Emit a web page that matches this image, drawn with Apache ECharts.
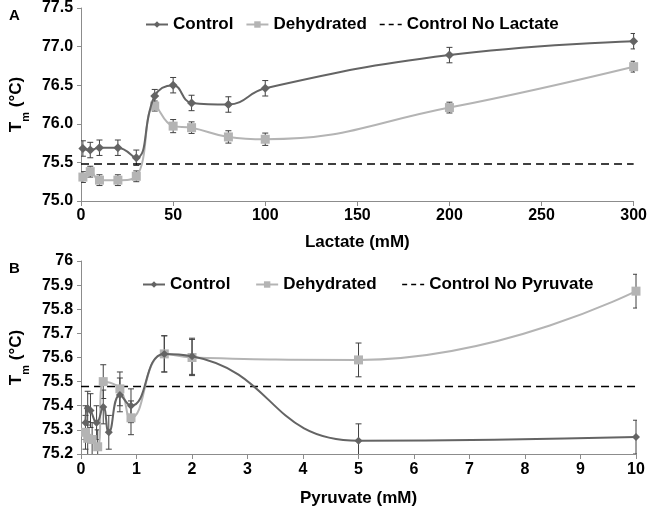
<!DOCTYPE html>
<html>
<head>
<meta charset="utf-8">
<script src="https://cdn.jsdelivr.net/npm/echarts@6/dist/echarts.min.js"></script>
<style>
html,body{margin:0;padding:0;background:#fff;}
#c{width:650px;height:508px;}
</style>
</head>
<body>
<div id="c"></div>
<script>
// ---- Panel A: Lactate ----
const lactateX = [1, 5, 10, 20, 30, 40, 50, 60, 80, 100, 200, 300];
const lactCtrl = [75.68, 75.66, 75.69, 75.69, 75.56, 76.36, 76.50, 76.27, 76.25, 76.46, 76.89, 77.07];
const lactCtrlErr = [0.10, 0.10, 0.10, 0.10, 0.10, 0.085, 0.10, 0.10, 0.10, 0.10, 0.10, 0.10];
const lactDehy = [75.31, 75.38, 75.27, 75.27, 75.32, 76.23, 75.97, 75.95, 75.83, 75.80, 76.21, 76.74];
const lactDehyErr = [0.07, 0.07, 0.07, 0.07, 0.07, 0.065, 0.085, 0.075, 0.08, 0.08, 0.07, 0.07];
const lactBaseline = 75.48;
const lactRange = [0, 300];

// ---- Panel B: Pyruvate ----
const pyrCtrlX = [0.08, 0.12, 0.17, 0.28, 0.4, 0.5, 0.7, 0.9, 1.5, 2, 5, 10];
const pyrCtrl = [75.33, 75.39, 75.38, 75.33, 75.395, 75.29, 75.445, 75.40, 75.615, 75.605, 75.255, 75.27];
const pyrCtrlErr = [0.07, 0.07, 0.07, 0.07, 0.07, 0.07, 0.07, 0.07, 0.075, 0.075, 0.07, 0.07];
const pyrDehyX = [0.08, 0.12, 0.2, 0.3, 0.4, 0.7, 0.9, 1.5, 2, 5, 10];
const pyrDehy = [75.29, 75.265, 75.26, 75.23, 75.50, 75.47, 75.35, 75.615, 75.60, 75.59, 75.875];
const pyrDehyErr = [0.07, 0.07, 0.07, 0.07, 0.07, 0.07, 0.07, 0.075, 0.075, 0.07, 0.07];
const pyrBaseline = 75.48;
const pyrRange = [0, 10];

const FONT = "'Liberation Sans', Arial, sans-serif";
const C_CTRL = '#646464';
const C_DEHY = '#b4b4b4';
const C_ERR = '#404040';

function pairs(xs, ys) { return xs.map((x, i) => [x, ys[i]]); }
function errData(xs, ys, es) { return xs.map((x, i) => [x, ys[i], es[i]]); }

function errorRender(params, api) {
  const x = api.value(0), y = api.value(1), e = api.value(2);
  const top = api.coord([x, y + e]);
  const bot = api.coord([x, y - e]);
  const hw = 3;
  const style = { stroke: C_ERR, lineWidth: 1 };
  return {
    type: 'group',
    children: [
      { type: 'line', shape: { x1: top[0], y1: top[1], x2: bot[0], y2: bot[1] }, style },
      { type: 'line', shape: { x1: top[0] - hw, y1: top[1], x2: top[0] + hw, y2: top[1] }, style },
      { type: 'line', shape: { x1: bot[0] - hw, y1: bot[1], x2: bot[0] + hw, y2: bot[1] }, style }
    ]
  };
}

const axisLabelStyle = { fontFamily: FONT, fontWeight: 'bold', fontSize: 16, color: '#000' };
const axisLine = { show: true, lineStyle: { color: '#8c8c8c', width: 1 } };

function fmtA(v) { return (Math.round(v * 10) / 10).toFixed(1); }
function fmtB(v) { const r = Math.round(v * 10) / 10; return Math.abs(r - 76) < 1e-6 ? '76' : r.toFixed(1); }

const yName = {
  rich: {
    t: { fontFamily: FONT, fontWeight: 'bold', fontSize: 17, color: '#000' },
    s: { fontFamily: FONT, fontWeight: 'bold', fontSize: 11, color: '#000', verticalAlign: 'bottom', padding: [0, 0, -6, 0] }
  }
};

const legendText = { fontFamily: FONT, fontWeight: 'bold', fontSize: 17, color: '#000' };
const dashLegend = { itemStyle: { opacity: 0 }, lineStyle: { type: [5, 4], color: '#000', width: 1.5 } };

const option = {
  animation: false,
  backgroundColor: '#fff',
  textStyle: { fontFamily: FONT },
  title: [
    { text: 'A', left: 4, top: 3, textStyle: { fontFamily: FONT, fontWeight: 'bold', fontSize: 15, color: '#000' } },
    { text: 'B', left: 4, top: 256, textStyle: { fontFamily: FONT, fontWeight: 'bold', fontSize: 15, color: '#000' } }
  ],
  legend: [
    {
      left: 140, top: 11, itemWidth: 22, itemHeight: 8, itemGap: 12,
      textStyle: legendText,
      data: ['Control', 'Dehydrated', Object.assign({ name: 'Control No Lactate' }, dashLegend)]
    },
    {
      left: 137, top: 271, itemWidth: 22, itemHeight: 8, itemGap: 20,
      textStyle: legendText,
      data: ['Control ', 'Dehydrated ', Object.assign({ name: 'Control No Pyruvate' }, dashLegend)]
    }
  ],
  grid: [
    { left: 77, right: 13, top: 8, height: 193, containLabel: false },
    { left: 79, right: 14, top: 261, height: 193, containLabel: false }
  ],
  xAxis: [
    {
      gridIndex: 0, type: 'value', min: lactRange[0], max: lactRange[1], interval: 50,
      axisLine, axisTick: { show: true, length: 5, lineStyle: { color: '#8c8c8c' } },
      splitLine: { show: false },
      axisLabel: Object.assign({ margin: 7 }, axisLabelStyle),
      name: 'Lactate (mM)', nameLocation: 'middle', nameGap: 33,
      nameTextStyle: { fontFamily: FONT, fontWeight: 'bold', fontSize: 17, color: '#000' }
    },
    {
      gridIndex: 1, type: 'value', min: pyrRange[0], max: pyrRange[1], interval: 1,
      axisLine, axisTick: { show: true, length: 5, lineStyle: { color: '#8c8c8c' } },
      splitLine: { show: false },
      axisLabel: Object.assign({ margin: 8 }, axisLabelStyle),
      name: 'Pyruvate (mM)', nameLocation: 'middle', nameGap: 36,
      nameTextStyle: { fontFamily: FONT, fontWeight: 'bold', fontSize: 17, color: '#000' }
    }
  ],
  yAxis: [
    {
      gridIndex: 0, type: 'value', min: 75, max: 77.5, interval: 0.5,
      axisLine, axisTick: { show: true, length: 4, lineStyle: { color: '#8c8c8c' } },
      splitLine: { show: false },
      axisLabel: Object.assign({ margin: 8, formatter: fmtA }, axisLabelStyle),
      name: '{t|T}{s|m}{t| (°C)}', nameLocation: 'middle', nameGap: 50,
      nameTextStyle: yName
    },
    {
      gridIndex: 1, type: 'value', min: 75.2, max: 76, interval: 0.1,
      axisLine, axisTick: { show: true, length: 4, lineStyle: { color: '#8c8c8c' } },
      splitLine: { show: false },
      axisLabel: Object.assign({ margin: 8, formatter: fmtB }, axisLabelStyle),
      name: '{t|T}{s|m}{t| (°C)}', nameLocation: 'middle', nameGap: 52,
      nameTextStyle: yName
    }
  ],
  series: [
    // Panel A
    {
      name: 'Control No Lactate', type: 'line', xAxisIndex: 0, yAxisIndex: 0,
      data: [[lactRange[0], lactBaseline], [lactRange[1], lactBaseline]],
      symbol: 'none', color: '#000',
      lineStyle: { color: '#000', width: 1.5, type: [8, 5] }
    },
    {
      type: 'custom', xAxisIndex: 0, yAxisIndex: 0, renderItem: errorRender, clip: true,
      data: errData(lactateX, lactDehy, lactDehyErr), z: 3, silent: true
    },
    {
      type: 'custom', xAxisIndex: 0, yAxisIndex: 0, renderItem: errorRender, clip: true,
      data: errData(lactateX, lactCtrl, lactCtrlErr), z: 3, silent: true
    },
    {
      name: 'Dehydrated', type: 'line', xAxisIndex: 0, yAxisIndex: 0,
      data: pairs(lactateX, lactDehy), smooth: 0.45,
      symbol: 'rect', symbolSize: 9, color: C_DEHY,
      itemStyle: { color: C_DEHY }, lineStyle: { color: C_DEHY, width: 2 }, z: 4
    },
    {
      name: 'Control', type: 'line', xAxisIndex: 0, yAxisIndex: 0,
      data: pairs(lactateX, lactCtrl), smooth: 0.45,
      symbol: 'diamond', symbolSize: 9, color: C_CTRL,
      itemStyle: { color: C_CTRL }, lineStyle: { color: C_CTRL, width: 2 }, z: 5
    },
    // Panel B
    {
      name: 'Control No Pyruvate', type: 'line', xAxisIndex: 1, yAxisIndex: 1,
      data: [[pyrRange[0], pyrBaseline], [pyrRange[1], pyrBaseline]],
      symbol: 'none', color: '#000',
      lineStyle: { color: '#000', width: 1.5, type: [8, 5] }
    },
    {
      type: 'custom', xAxisIndex: 1, yAxisIndex: 1, renderItem: errorRender, clip: true,
      data: errData(pyrDehyX, pyrDehy, pyrDehyErr), z: 3, silent: true
    },
    {
      type: 'custom', xAxisIndex: 1, yAxisIndex: 1, renderItem: errorRender, clip: true,
      data: errData(pyrCtrlX, pyrCtrl, pyrCtrlErr), z: 3, silent: true
    },
    {
      name: 'Dehydrated ', type: 'line', xAxisIndex: 1, yAxisIndex: 1,
      data: pairs(pyrDehyX, pyrDehy), smooth: 0.5,
      symbol: 'rect', symbolSize: 9, color: C_DEHY,
      itemStyle: { color: C_DEHY }, lineStyle: { color: C_DEHY, width: 2 }, z: 4
    },
    {
      name: 'Control ', type: 'line', xAxisIndex: 1, yAxisIndex: 1,
      data: pairs(pyrCtrlX, pyrCtrl), smooth: 0.5,
      symbol: 'diamond', symbolSize: 8, color: C_CTRL,
      itemStyle: { color: C_CTRL }, lineStyle: { color: C_CTRL, width: 2 }, z: 5
    }
  ]
};

const chart = echarts.init(document.getElementById('c'), null, { renderer: 'canvas' });
chart.setOption(option);
</script>
</body>
</html>
